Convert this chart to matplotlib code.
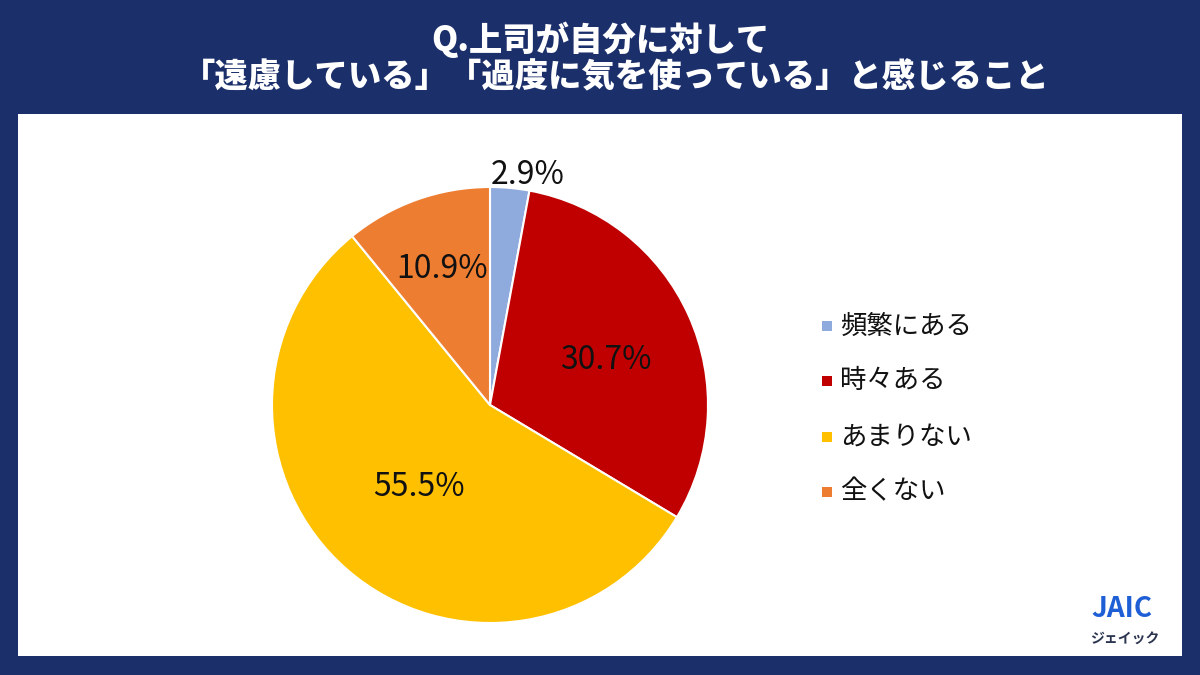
import matplotlib
matplotlib.use("Agg")
import matplotlib.pyplot as plt
from matplotlib.patches import Rectangle
import numpy as np

plt.rcParams['font.family'] = ['Noto Sans CJK JP', 'DejaVu Sans']

# データ
title_lines = ["Q.上司が自分に対して",
               "「遠慮している」「過度に気を使っている」と感じること"]
categories = ["頻繁にある", "時々ある", "あまりない", "全くない"]
values = [2.9, 30.7, 55.5, 10.9]
colors = ["#8faadc", "#c00000", "#ffc000", "#ed7d31"]
label_dist = [1.07, 0.57, 0.5, 0.66]
label_rot = [-4, -3, 0, 0]  # ラベル位置の角度補正

navy = "#1b2f6b"

fig = plt.figure(figsize=(12, 6.75), dpi=100, facecolor=navy)

# 白いパネル
fig.patches.append(Rectangle((18/1200, 1-656/675), (1182-18)/1200, (656-114)/675,
                             transform=fig.transFigure, facecolor="white",
                             edgecolor="none", zorder=-5))

fig.text(0.5, 1-40/675, title_lines[0], color="white", fontsize=24,
         fontweight="heavy", ha="center", va="center")
fig.text(0.513, 1-77/675, title_lines[1], color="white", fontsize=24,
         fontweight="heavy", ha="center", va="center")

# 円グラフ
cx, cy, r = 490/1200, 1-405/675, 218
ax = fig.add_axes([cx - r/1200, cy - r/675, 2*r/1200, 2*r/675])
ax.set_zorder(2)

wedges, _ = ax.pie(values, colors=colors, startangle=90, counterclock=False,
                   radius=1, wedgeprops=dict(edgecolor="white", linewidth=1.5))
ax.set_xlim(-1, 1)
ax.set_ylim(-1, 1)
ax.axis("off")

for w, v, d, rot in zip(wedges, values, label_dist, label_rot):
    ang = np.deg2rad((w.theta1 + w.theta2) / 2 + rot)
    ax.text(d*np.cos(ang), d*np.sin(ang), f"{v}%", fontsize=23,
            ha="center", va="center", color="#111111", clip_on=False)

# 凡例
leg_y = [326, 381, 437, 492]
for name, c, y in zip(categories, colors, leg_y):
    fig.patches.append(Rectangle((822/1200, 1-(y+5)/675), 10/1200, 10/675,
                                 transform=fig.transFigure, facecolor=c,
                                 edgecolor="none", zorder=3))
    fig.text(840/1200, 1-y/675, name, fontsize=19, ha="left", va="center",
             color="#111111")

# ロゴ
fig.text(1122/1200, 1-609/675, "JAIC", fontsize=20, color="#1f5fd6",
         ha="center", va="center", fontweight="bold")
fig.text(1125/1200, 1-640/675, "ジェイック", fontsize=10, color="#2b3550",
         ha="center", va="center", fontweight="bold")

fig.savefig("out.png", dpi=100, facecolor=navy)
